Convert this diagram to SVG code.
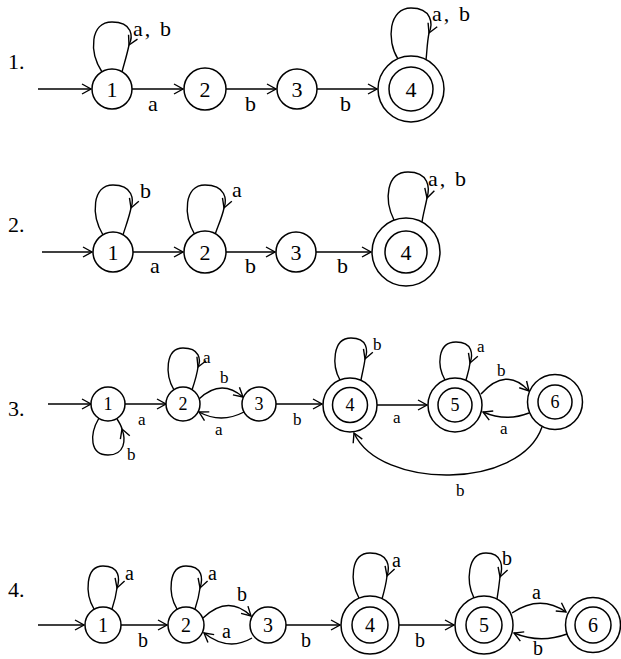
<svg xmlns="http://www.w3.org/2000/svg" width="621" height="659" viewBox="0 0 621 659">
<defs>
<marker id="ah" markerUnits="userSpaceOnUse" markerWidth="14" markerHeight="14" viewBox="-12 -7 14 14" refX="0" refY="0" orient="auto">
<path d="M-9,-5 L0,0 L-9,5" fill="none" stroke="#000" stroke-width="1.4"/>
</marker>
</defs>
<style>
.st{fill:#fff;stroke:#000;stroke-width:1.5}
.e{fill:none;stroke:#000;stroke-width:1.4;marker-end:url(#ah)}
.p{fill:none;stroke:#000;stroke-width:1.4}
text{font-family:"Liberation Serif","Times New Roman",serif;fill:#000}
.n1{font-size:22px;text-anchor:middle}
.n3{font-size:18px;text-anchor:middle}
.n4{font-size:20px;text-anchor:middle}
.lb1{font-size:22px}
.lb3{font-size:17px}
.lb4{font-size:20px}
.num{font-size:22px}
</style>
<rect width="621" height="659" fill="#fff"/>
<g id="connectors">
<!-- diagram 1 -->
<path class="e" d="M38,89 L91,89"/>
<path class="e" d="M132,89 L183,89"/>
<path class="e" d="M226,89 L276,89"/>
<path class="e" d="M317,89 L377,89"/>
<path class="e" d="M102,72 C89,52 90,22 112,22 C133,22 133,37 129,45"/>
<path class="p" d="M129,45 C127,55 124,64 122,72"/>
<path class="e" d="M398,59 C386,40 389,8 411,8 C432,8 433,24 429,33"/>
<path class="p" d="M429,33 C427,43 427,52 426,60"/>
<!-- diagram 2 -->
<path class="e" d="M42,252 L92,252"/>
<path class="e" d="M133,252 L183,252"/>
<path class="e" d="M226,252 L275,252"/>
<path class="e" d="M316,252 L371,252"/>
<path class="e" d="M103,235 C91,215 92,185 113,185 C133,185 134,200 131,208"/>
<path class="p" d="M131,208 C129,218 125,228 123,235"/>
<path class="e" d="M195,235 C183,215 184,185 205,185 C226,185 227,200 224,208"/>
<path class="p" d="M224,208 C222,218 217,228 215,235"/>
<path class="e" d="M394,220 C384,200 386,172 408,172 C429,172 430,188 427,198"/>
<path class="p" d="M427,198 C425,208 423,215 422,222"/>
<!-- diagram 3 -->
<path class="e" d="M48,404 L91,404"/>
<path class="e" d="M125,404 L166,404"/>
<path class="e" d="M199,399 Q221,378 243,397"/>
<path class="e" d="M244,412 Q221,424 199,412"/>
<path class="e" d="M276,404 L322,404"/>
<path class="e" d="M377,405 L427,405"/>
<path class="e" d="M481,394 Q506,366 529,391"/>
<path class="e" d="M529,413 Q506,422 483,412"/>
<path class="e" d="M542,427 C520,490 380,490 354,433"/>
<path class="e" d="M99,418 C89,435 90,455 108,455 C125,455 126,440 122,429"/>
<path class="p" d="M122,429 C121,425 119,422 117,419"/>
<path class="e" d="M174,390 C165,375 165,348 183,348 C200,348 201,360 198,367"/>
<path class="p" d="M198,367 C197,375 194,384 192,390"/>
<path class="e" d="M340,380 C332,366 332,338 351,338 C368,338 368,351 365,359"/>
<path class="p" d="M365,359 C364,367 362,374 361,380"/>
<path class="e" d="M445,380 C437,366 437,342 456,342 C473,342 473,355 470,363"/>
<path class="p" d="M470,363 C469,371 467,376 466,380"/>
<!-- diagram 4 -->
<path class="e" d="M38,625 L84,625"/>
<path class="e" d="M121,625 L167,625"/>
<path class="e" d="M203,618 Q228,594 251,616"/>
<path class="e" d="M252,638 Q228,652 204,633"/>
<path class="e" d="M286,625 L340,625"/>
<path class="e" d="M399,625 L454,625"/>
<path class="e" d="M512,613 Q540,594 566,612"/>
<path class="e" d="M567,634 Q540,644 514,633"/>
<path class="e" d="M94,609 C85,594 85,566 103,566 C120,566 120,579 117,588"/>
<path class="p" d="M117,588 C116,596 114,603 112,609"/>
<path class="e" d="M177,609 C168,594 168,566 186,566 C203,566 203,579 200,588"/>
<path class="p" d="M200,588 C199,596 197,603 195,609"/>
<path class="e" d="M359,598 C350,582 350,553 370,553 C389,553 390,567 387,576"/>
<path class="p" d="M387,576 C386,585 384,592 382,599"/>
<path class="e" d="M474,598 C466,582 467,553 486,553 C503,553 503,568 500,577"/>
<path class="p" d="M500,577 C499,586 498,593 497,599"/>
</g>
<g id="labels">
<text class="num" x="8" y="69">1.</text>
<text class="lb1" x="133" y="36" textLength="38" lengthAdjust="spacing">a, b</text>
<text class="lb1" x="148" y="111">a</text>
<text class="lb1" x="245" y="111">b</text>
<text class="lb1" x="340" y="111">b</text>
<text class="lb1" x="432" y="21" textLength="38" lengthAdjust="spacing">a, b</text>
<text class="num" x="8" y="232">2.</text>
<text class="lb1" x="140" y="198">b</text>
<text class="lb1" x="232" y="197">a</text>
<text class="lb1" x="150" y="273">a</text>
<text class="lb1" x="245" y="273">b</text>
<text class="lb1" x="337" y="273">b</text>
<text class="lb1" x="428" y="186" textLength="38" lengthAdjust="spacing">a, b</text>
<text class="num" x="8" y="416">3.</text>
<text class="lb3" x="127" y="460">b</text>
<text class="lb3" x="138" y="425">a</text>
<text class="lb3" x="203" y="363">a</text>
<text class="lb3" x="220" y="383">b</text>
<text class="lb3" x="215" y="435">a</text>
<text class="lb3" x="293" y="425">b</text>
<text class="lb3" x="373" y="350">b</text>
<text class="lb3" x="393" y="423">a</text>
<text class="lb3" x="477" y="352">a</text>
<text class="lb3" x="497" y="376">b</text>
<text class="lb3" x="500" y="434">a</text>
<text class="lb3" x="456" y="496">b</text>
<text class="num" x="8" y="597">4.</text>
<text class="lb4" x="125" y="580">a</text>
<text class="lb4" x="208" y="580">a</text>
<text class="lb4" x="138" y="647">b</text>
<text class="lb4" x="237" y="601">b</text>
<text class="lb4" x="222" y="638">a</text>
<text class="lb4" x="301" y="647">b</text>
<text class="lb4" x="392" y="567">a</text>
<text class="lb4" x="415" y="647">b</text>
<text class="lb4" x="502" y="565">b</text>
<text class="lb4" x="532" y="599">a</text>
<text class="lb4" x="533" y="655">b</text>
</g>
<g id="d1s1"><circle class="st" cx="112" cy="89" r="20"/><text class="n1" x="112" y="97">1</text></g>
<g id="d1s2"><circle class="st" cx="205" cy="89" r="21"/><text class="n1" x="205" y="97">2</text></g>
<g id="d1s3"><circle class="st" cx="297" cy="89" r="20"/><text class="n1" x="297" y="97">3</text></g>
<g id="d1s4"><circle class="st" cx="411" cy="89" r="33"/><circle class="st" cx="411" cy="89" r="22"/><text class="n1" x="411" y="97">4</text></g>
<g id="d2s1"><circle class="st" cx="113" cy="252" r="20"/><text class="n1" x="113" y="260">1</text></g>
<g id="d2s2"><circle class="st" cx="205" cy="252" r="21"/><text class="n1" x="205" y="260">2</text></g>
<g id="d2s3"><circle class="st" cx="296" cy="252" r="20"/><text class="n1" x="296" y="260">3</text></g>
<g id="d2s4"><circle class="st" cx="406" cy="252" r="34"/><circle class="st" cx="406" cy="252" r="21"/><text class="n1" x="406" y="260">4</text></g>
<g id="d3s1"><circle class="st" cx="108" cy="404" r="17"/><text class="n3" x="108" y="410">1</text></g>
<g id="d3s2"><circle class="st" cx="183" cy="404" r="17"/><text class="n3" x="183" y="410">2</text></g>
<g id="d3s3"><circle class="st" cx="259" cy="404" r="17"/><text class="n3" x="259" y="410">3</text></g>
<g id="d3s4"><circle class="st" cx="350" cy="405" r="27"/><circle class="st" cx="350" cy="405" r="17.5"/><text class="n3" x="350" y="411">4</text></g>
<g id="d3s5"><circle class="st" cx="455" cy="405" r="27"/><circle class="st" cx="455" cy="405" r="17"/><text class="n3" x="455" y="411">5</text></g>
<g id="d3s6"><circle class="st" cx="555" cy="402" r="27.5"/><circle class="st" cx="555" cy="402" r="17"/><text class="n3" x="555" y="408">6</text></g>
<g id="d4s1"><circle class="st" cx="103" cy="625" r="18"/><text class="n4" x="103" y="632">1</text></g>
<g id="d4s2"><circle class="st" cx="186" cy="625" r="18"/><text class="n4" x="186" y="632">2</text></g>
<g id="d4s3"><circle class="st" cx="268" cy="625" r="18"/><text class="n4" x="268" y="632">3</text></g>
<g id="d4s4"><circle class="st" cx="370" cy="625" r="29"/><circle class="st" cx="370" cy="625" r="18"/><text class="n4" x="370" y="632">4</text></g>
<g id="d4s5"><circle class="st" cx="484" cy="625" r="29"/><circle class="st" cx="484" cy="625" r="18"/><text class="n4" x="484" y="632">5</text></g>
<g id="d4s6"><circle class="st" cx="593" cy="625" r="27.5"/><circle class="st" cx="593" cy="625" r="18"/><text class="n4" x="593" y="632">6</text></g>
</svg>
